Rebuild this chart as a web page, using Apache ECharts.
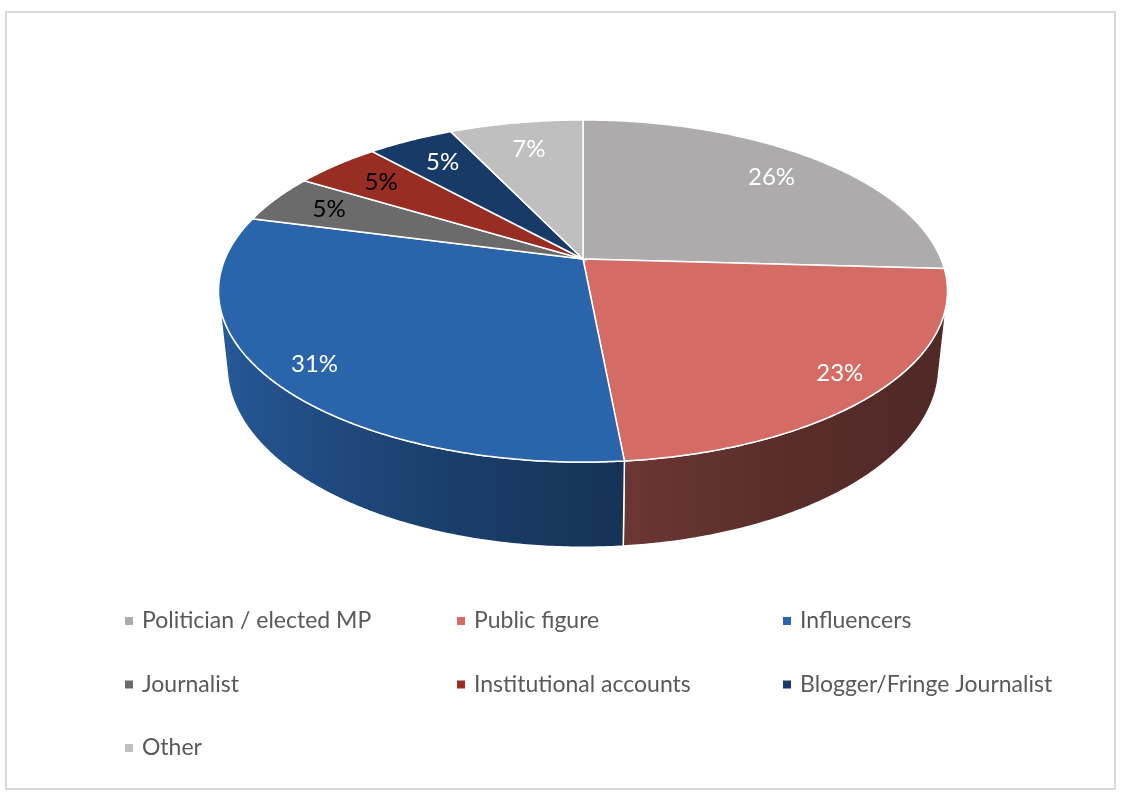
<!DOCTYPE html>
<html>
<head>
<meta charset="utf-8">
<title>Account types</title>
<script src="https://cdn.jsdelivr.net/npm/echarts@6/dist/echarts.min.js"></script>
<style>
    html, body { margin: 0; padding: 0; background: #fff; }
    #chart { width: 1140px; height: 798px; }
</style>
</head>
<body>
<div id="chart"></div>
<script>
// data (shares, labels show them rounded)
const names = ['Politician / elected MP', 'Public figure', 'Influencers', 'Journalist',
    'Institutional accounts', 'Blogger/Fringe Journalist', 'Other'];
const shares = [25.9, 22.6, 30.6, 4.6, 4.6, 4.6, 7.1];

// look
const colors = ['#ADABAB', '#D46B64', '#2A64AB', '#6B6B6B', '#982D24', '#173A67', '#BFBFBF'];
const labelColors = ['#fff', '#fff', '#fff', '#000', '#000', '#fff', '#fff'];

// fake 3d camera for the tilted pie
const CX = 583, CY = 259;
const SIN_A = 0.461, COS_A = Math.sqrt(1 - SIN_A * SIN_A);
const DIST = 4.74, FOCAL = 1697, DEPTH = 0.239;

const total = shares.reduce((a, b) => a + b, 0);
const starts = [];
let acc = 0;
shares.forEach(v => { starts.push(acc / total * 360); acc += v; });

function project(x, y, z) {
    let yc = y * COS_A + z * SIN_A;
    let zc = DIST + z * COS_A - y * SIN_A;
    return [CX + FOCAL * x / zc, CY - FOCAL * yc / zc];
}

function pt(theta, r, y) {
    let a = theta * Math.PI / 180;
    return project(r * Math.sin(a), y, r * Math.cos(a));
}

function arc(t0, t1, y) {
    let n = Math.max(2, Math.ceil(Math.abs(t1 - t0) * 2));
    let out = [];
    for (let k = 0; k <= n; k++) {
        out.push(pt(t0 + (t1 - t0) * k / n, 1, y));
    }
    return out;
}

function shade(hex, f) {
    let n = parseInt(hex.slice(1), 16);
    let r = Math.round(((n >> 16) & 255) * f);
    let g = Math.round(((n >> 8) & 255) * f);
    let b = Math.round((n & 255) * f);
    return 'rgb(' + r + ',' + g + ',' + b + ')';
}

function sideFactor(theta) {
    let s = Math.sin(theta * Math.PI / 180);
    return 0.38 + 0.55 * Math.pow((1 - s) / 2, 1.87);
}

// the side wall is only seen where it faces the camera
const SIDE_FROM = Math.acos(-1 / (DIST * COS_A)) * 180 / Math.PI;
const SIDE_TO = 360 - SIDE_FROM;

function renderSlice(params, api) {
    let i = params.seriesIndex;
    let v = api.value(0);
    let t0 = starts[i];
    let t1 = t0 + v / total * 360;
    let children = [];

    let a = Math.max(t0, SIDE_FROM);
    let b = Math.min(t1, SIDE_TO);
    if (a < b) {
        let poly = arc(a, b, 0).concat(arc(b, a, -DEPTH));
        let samples = [];
        for (let k = 0; k <= 12; k++) {
            let th = a + (b - a) * k / 12;
            samples.push({ x: pt(th, 1, 0)[0], c: shade(colors[i], sideFactor(th)) });
        }
        let xs = samples.map(s => s.x);
        let x0 = Math.min.apply(null, xs), x1 = Math.max.apply(null, xs);
        let stops = samples.map(s => ({ offset: (s.x - x0) / (x1 - x0), color: s.c }))
            .sort((p, q) => p.offset - q.offset);
        children.push({
            type: 'polygon',
            shape: { points: poly },
            style: {
                fill: { type: 'linear', x: x0, y: 0, x2: x1, y2: 0, global: true, colorStops: stops },
                stroke: '#fff',
                lineWidth: 1.5
            }
        });
    }

    children.push({
        type: 'polygon',
        shape: { points: [project(0, 0, 0)].concat(arc(t0, t1, 0)) },
        style: { fill: colors[i], stroke: '#fff', lineWidth: 1.5 }
    });

    let mid = (t0 + t1) / 2;
    let f = 0.84 - 0.06 * Math.cos(mid * Math.PI / 180);
    let p = pt(mid, f, 0);
    children.push({
        type: 'text',
        x: p[0],
        y: p[1],
        style: {
            text: Math.round(v) + '%',
            fill: labelColors[i],
            fontFamily: 'Lato',
            fontSize: 24,
            align: 'center',
            verticalAlign: 'middle'
        }
    });

    return { type: 'group', children: children };
}

let series = names.map((name, i) => ({
    type: 'custom',
    name: name,
    coordinateSystem: 'none',
    itemStyle: { color: colors[i] },
    renderItem: renderSlice,
    data: [[shares[i]]]
}));

function legendColumn(left, items) {
    return {
        orient: 'vertical',
        left: left,
        top: 608,
        padding: 0,
        icon: 'rect',
        itemWidth: 8,
        itemHeight: 8,
        itemGap: 37.5,
        selectedMode: false,
        data: items,
        textStyle: {
            color: '#595959',
            fontFamily: 'Lato',
            fontSize: 23,
            lineHeight: 26,
            padding: [0, 0, 0, 4]
        }
    };
}

let chart = echarts.init(document.getElementById('chart'));
chart.setOption({
    animation: false,
    backgroundColor: '#fff',
    legend: [
        legendColumn(125, [names[0], names[3], names[6]]),
        legendColumn(457, [names[1], names[4]]),
        legendColumn(783, [names[2], names[5]])
    ],
    graphic: [{
        type: 'rect',
        shape: { x: 6, y: 12, width: 1109, height: 777 },
        style: { fill: 'none', stroke: '#d9d9d9', lineWidth: 2 },
        silent: true
    }],
    series: series
});

window.addEventListener('resize', () => chart.resize());
</script>
</body>
</html>
